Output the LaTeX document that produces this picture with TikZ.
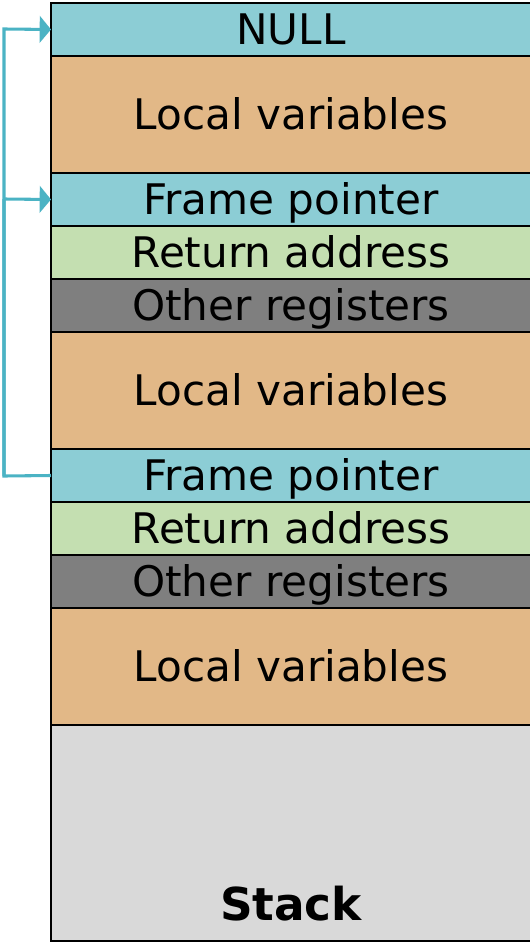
\documentclass[tikz,border=0pt]{standalone}
\usepackage{fontspec}
\setmainfont{DejaVu Sans}
\usetikzlibrary{positioning,arrows.meta}

\definecolor{fpcyan}{HTML}{8CCDD5}
\definecolor{localorange}{HTML}{E2B887}
\definecolor{retgreen}{HTML}{C4DFB1}
\definecolor{reggray}{HTML}{7F7F7F}
\definecolor{stackgray}{HTML}{D9D9D9}
\definecolor{linkcyan}{HTML}{4BB3C4}

\tikzset{
  slot/.style={draw=black, line width=1.6pt, inner sep=0pt, outer sep=0pt,
    minimum width=360pt, text height=23pt, text depth=0pt,
    font=\fontsize{31.6}{32}\selectfont},
  thin/.style={slot, minimum height=39.75pt},
  thick/.style={slot, minimum height=87.75pt},
  link/.style={draw=linkcyan, line width=2.3pt},
  linkarrow/.style={link, -{Triangle[length=8.5pt,width=20pt]}}
}

\begin{document}
\begin{tikzpicture}[x=0.75pt,y=-0.75pt]
  \useasboundingbox (0,0) rectangle (529,945);

  % first frame
  \node[thin, fill=fpcyan, anchor=north west] (null) at (51,3) {NULL};
  \node[thick, fill=localorange, below=0pt of null] (loc1) {Local variables};

  % second frame
  \node[thin, fill=fpcyan, below=0pt of loc1] (fp1) {Frame pointer};
  \node[thin, fill=retgreen, below=0pt of fp1] (ret1) {Return address};
  \node[thin, fill=reggray, below=0pt of ret1] (reg1) {Other registers};
  \node[thick, fill=localorange, below=0pt of reg1] (loc2) {Local variables};

  % third frame
  \node[thin, fill=fpcyan, below=0pt of loc2] (fp2) {Frame pointer};
  \node[thin, fill=retgreen, below=0pt of fp2] (ret2) {Return address};
  \node[thin, fill=reggray, below=0pt of ret2] (reg2) {Other registers};
  \node[thick, fill=localorange, below=0pt of reg2] (loc3) {Local variables};

  % free stack
  \node[slot, fill=stackgray, minimum height=162pt, below=0pt of loc3] (free) {};
  \node[font=\fontsize{34}{34}\selectfont\bfseries, anchor=base, inner sep=0pt,
    yshift=15.75pt] (stacklbl) at (free.south) {Stack};

  % frame pointer chain
  \coordinate (top) at (4,29);
  \coordinate (mid) at (4,199);
  \coordinate (bot) at (4,476);
  \draw[link] (fp2.west) -- (bot) -- (mid);
  \draw[linkarrow] (bot) -- (top) -- (null.west);
  \draw[linkarrow] (mid) -- (fp1.west);
\end{tikzpicture}
\end{document}
